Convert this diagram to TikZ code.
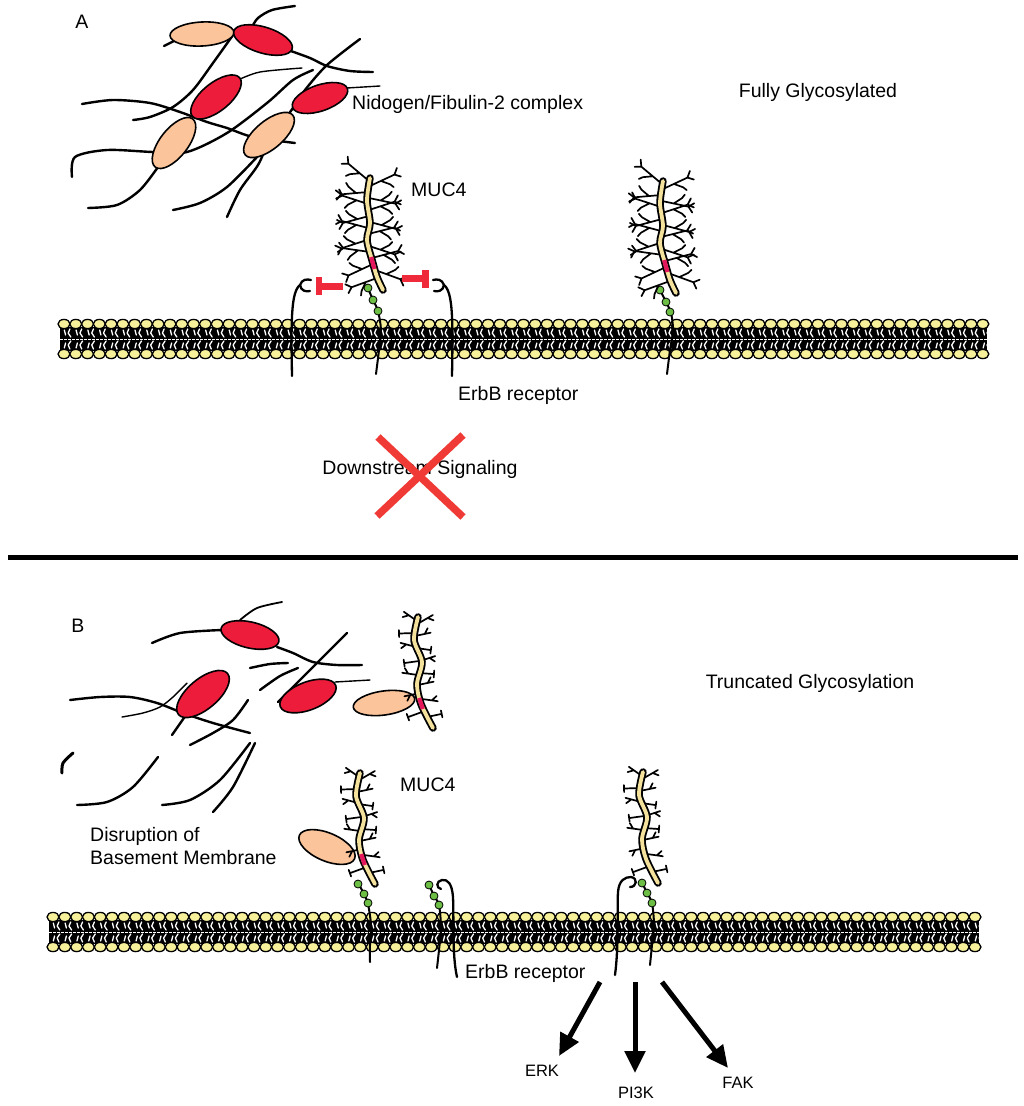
\documentclass[tikz,border=0pt]{standalone}
\usepackage{fontspec}
\setmainfont{Liberation Sans}
\usetikzlibrary{arrows.meta}
\definecolor{ecmred}{HTML}{ED1C3A}
\definecolor{ecmpeach}{HTML}{FBC49A}
\definecolor{pinkblk}{HTML}{E5175C}
\definecolor{bbyellow}{HTML}{F4E19C}
\definecolor{headyel}{HTML}{F7F09A}
\definecolor{beadgreen}{HTML}{6CBE45}
\definecolor{inhred}{HTML}{EE2A3B}
\definecolor{xred}{HTML}{F03A36}
\tikzset{
  fiber/.style={line width=2.4pt, line cap=round},
  thinfiber/.style={line width=1.4pt, line cap=round},
  ecmR/.style={fill=ecmred, draw=black, line width=1.6pt},
  ecmP/.style={fill=ecmpeach, draw=black, line width=1.6pt},
  lbl/.style={font=\fontsize{19.5}{23}\selectfont, inner sep=0pt},
  smalllbl/.style={font=\fontsize{16.5}{19}\selectfont, inner sep=0pt},
  glyline/.style={line width=1.7pt, line cap=round, line join=round},
  bbout/.style={line width=7.5pt, line cap=round, black},
  bbin/.style={line width=3.8pt, line cap=round, bbyellow},
  blkseg/.style={line width=4.2pt, pinkblk},
  chainline/.style={line width=2pt, line cap=round},
  beadst/.style={fill=beadgreen, draw=black, line width=0.8pt},
  receptor/.style={line width=2.3pt, line cap=round},
  inhib/.style={line width=6.5pt, inhred},
  xline/.style={line width=7.5pt, xred},
  lipidgap/.style={line width=1.3pt, white, line join=round, line cap=round},
  lipidhead/.style={fill=headyel, draw=black, line width=1.3pt},
  sigarrow/.style={line width=5pt, -{Triangle[width=20pt,length=22pt]}},
  glyA/.pic={\draw[glyline] (0,0)--(27,0) (12,0)--(19,-7) (19,-7)--(21,-11) (27,0)--(32,-4.5) (27,0)--(32,5);},
  glyT/.pic={\draw[glyline] (0,0)--(16,0) (10,0)--(14,-5);},
  glyU/.pic={\draw[glyline] (0,0)--(15,0) (15,-3.5)--(15,3.5);}
}
\newcommand\bilayer[4]{%
  \fill[black] (#1-4,#4+3) rectangle (#1+#2*#3+4,#4+27);
  \foreach \i in {0,...,#2}{%
    \pgfmathsetmacro\xx{#1+\i*#3}%
    \draw[lipidgap] (\xx+5.9,#4+5) -- (\xx+4.2,#4+9) -- (\xx+6.8,#4+13)
      (\xx+5.9,#4+25) -- (\xx+4.2,#4+21) -- (\xx+6.8,#4+17)
      (\xx+0.3,#4+6) -- (\xx+1.6,#4+11)
      (\xx+0.3,#4+24) -- (\xx+1.6,#4+19);
  }
  \draw[white, line width=0.9pt, dash pattern=on 2.5pt off 1.5pt] (#1-4,#4+15) -- (#1+#2*#3+4,#4+15);
  \foreach \i in {0,...,#2}{%
    \pgfmathsetmacro\xx{#1+\i*#3}%
    \draw[lipidhead] (\xx,#4) ellipse [x radius=6pt, y radius=4.6pt];
    \draw[lipidhead] (\xx,#4+30) ellipse [x radius=6pt, y radius=4.6pt];
  }
}
\newcommand\mucfull[2]{%
  \begin{scope}[shift={(#1,#2)}]
    \foreach \p/\a/\s in {{-1,3}/140/1, {-2,14}/185/-1, {-2,26}/162/1, {-1,38}/195/-1, {-2,50}/165/1, {-3,62}/198/-1, {0,74}/172/1, {3,86}/205/-1, {7,100}/200/1,
      {0,8}/25/-1, {-1,20}/-12/1, {-1,32}/18/-1, {0,44}/-15/1, {-2,56}/14/-1, {-1,68}/-18/1, {2,80}/15/-1, {5,92}/-20/1}
      {\pic[rotate=\a, yscale=\s] at (\p) {glyA};}
    \draw[bbout] plot[smooth] coordinates {(0,0) (-3,22) (0,45) (-3,62) (2,82) (7,99) (13,112)};
    \draw[bbin] plot[smooth] coordinates {(0,0) (-3,22) (0,45) (-3,62) (2,82) (7,99) (13,112)};
    \draw[blkseg] (1.2,79) -- (4.4,91);
  \end{scope}}
\newcommand\muctrunc[3]{%
  \begin{scope}[shift={(#1,#2)}]
    \foreach \p/\a/\s in {{-1,4}/145/1, {-2,30}/165/1, {0,58}/172/-1, {2,76}/192/1, {1,6}/30/-1, {-3,19}/12/1, {2,44}/18/-1, {0,68}/12/1, {4,82}/-8/1}
      {\pic[rotate=\a, yscale=\s] at (\p) {glyT};}
    \foreach \p/\a/\s in {{-4,16}/182/1, {1,44}/188/1, {4,95}/200/1, {-2,31}/-8/1, {1,56}/-4/1, {9,100}/12/1}
      {\pic[rotate=\a, yscale=\s] at (\p) {glyU};}
    \draw[bbout] plot[smooth] coordinates {(0,0) (-4,23) (4,45) (-1,67) (3,87) (15,111)};
    \draw[bbin] plot[smooth] coordinates {(0,0) (-4,23) (4,45) (-1,67) (3,87) (15,111)};
    \ifnum#3=1 \draw[blkseg] (1.2,81) -- (4.8,92);\fi
  \end{scope}}
\newcommand\beads[3]{%
  \filldraw[beadst] (#1) circle[radius=4pt];
  \filldraw[beadst] (#2) circle[radius=4pt];
  \filldraw[beadst] (#3) circle[radius=4pt];}
\begin{document}
\begin{tikzpicture}[x=1pt,y=-1pt]
\useasboundingbox[fill=white] (0,0) rectangle (1024,1106);

% ================= PANEL A =================
\draw[fiber] (164,46) -- (176,40);
\draw[fiber] plot[smooth] coordinates {(295,6) (272,10) (258,18) (252,27)};
\draw[fiber] plot[smooth] coordinates {(288,50) (310,58) (327,66) (350,71) (373,72)};
\draw[fiber] plot[smooth] coordinates {(233,35) (213,63) (193,90) (173,107) (150,117) (133,120)};
\draw[fiber] plot[smooth] coordinates {(82,104) (113,100) (150,103) (180,112) (207,122) (227,128) (253,137) (295,143)};
\draw[thinfiber] plot[smooth] coordinates {(238,80) (260,72) (302,68)};
\draw[fiber] plot[smooth] coordinates {(72,177) (75,157) (107,150) (153,152) (187,152) (227,133) (267,103) (293,80) (313,70)};
\draw[fiber] plot[smooth] coordinates {(360,39) (327,65) (305,90) (293,108) (270,140) (258,165) (240,190) (227,217)};
\draw[fiber] plot[smooth] coordinates {(257,157) (227,187) (200,203) (173,210)};
\draw[fiber] plot[smooth] coordinates {(158,167) (140,190) (117,205) (88,208)};
\draw[thinfiber] (347,88) -- (380,86);
\draw[ecmP, rotate around={3:(202,34)}] (202,34) ellipse [x radius=32pt, y radius=12pt];
\draw[ecmR, rotate around={-17:(263,40)}] (263,40) ellipse [x radius=30.5pt, y radius=13pt];
\draw[ecmR, rotate around={39:(216,97)}] (216,97) ellipse [x radius=30.5pt, y radius=14pt];
\draw[ecmP, rotate around={52:(174,143)}] (174,143) ellipse [x radius=30.5pt, y radius=14pt];
\draw[ecmP, rotate around={40:(269,135)}] (269,135) ellipse [x radius=31pt, y radius=14pt];
\draw[ecmR, rotate around={19:(320,98)}] (320,98) ellipse [x radius=29pt, y radius=13pt];

\bilayer{64}{78}{11.78}{324}

\draw[receptor] (292,376) .. controls (291,320) and (291,292) .. (300,285) .. controls (302,279) and (307,279) .. (311,280);
\draw[receptor] (300,285) .. controls (301,291) and (306,292) .. (310,291);
\draw[receptor] (452,376) .. controls (453,320) and (453,292) .. (444,285) .. controls (442,279) and (437,279) .. (433,280);
\draw[receptor] (444,285) .. controls (443,291) and (438,292) .. (434,291);
\draw[chainline] plot[smooth] coordinates {(367,286) (373,300) (378,311) (381,330) (379,350) (376,374)};
\beads{368,288}{373,300}{378,311}
\draw[chainline] plot[smooth] coordinates {(659,288) (666,302) (671,313) (673,330) (670,350) (667,374)};
\beads{660,290}{666,302}{670,312}
\mucfull{370}{178}
\mucfull{663}{181}
\draw[inhib] (343,286.5) -- (318,286.5);
\draw[inhib] (319,277) -- (319,295);
\draw[inhib] (402,278.5) -- (425,278.5);
\draw[inhib] (425.5,270) -- (425.5,288);

\node[lbl] (labA) at (82,22) {A};
\node[lbl] (fullgly) at (818,92) {Fully Glycosylated};
\node[lbl, anchor=west] (nido) at (352,104) {Nidogen/Fibulin-2 complex};
\node[lbl, anchor=west] (mucA) at (411,190) {MUC4};
\node[lbl, anchor=west] (erbA) at (458,395) {ErbB receptor};
\node[lbl] (downA) at (420,469) {Downstream Signaling};
\draw[xline] (378,437) -- (463,517);
\draw[xline] (463,435) -- (377,516);

\draw[line width=5pt] (8,557) -- (1018,557);

% ================= PANEL B =================
\draw[thinfiber, line width=1.8pt] plot[smooth] coordinates {(240,620) (257,608) (282,602)};
\draw[fiber] plot[smooth] coordinates {(152,643) (180,633) (222,630)};
\draw[fiber] plot[smooth] coordinates {(277,647) (293,653) (313,662) (337,665) (362,665)};
\draw[fiber] (347,633) -- (278,702);
\draw[fiber] plot[smooth] coordinates {(250,668) (270,664) (288,663)};
\draw[fiber] plot[smooth] coordinates {(260,690) (280,676) (298,668)};
\draw[fiber] plot[smooth] coordinates {(70,700) (100,697) (130,697) (157,703) (183,713) (213,723) (250,733)};
\draw[thinfiber] plot[smooth] coordinates {(122,717) (143,713) (160,707) (173,697) (187,683)};
\draw[fiber] (172,735) -- (186,715);
\draw[fiber] plot[smooth] coordinates {(190,745) (213,733) (233,720) (248,700)};
\draw[fiber, line width=3pt] plot[smooth] coordinates {(62,773) (63,763) (73,753)};
\draw[fiber] plot[smooth] coordinates {(77,805) (107,802) (133,787) (158,757)};
\draw[fiber] plot[smooth] coordinates {(162,805) (190,800) (220,780) (250,743)};
\draw[fiber] plot[smooth] coordinates {(213,812) (233,787) (255,743)};
\draw[thinfiber] (335,682) -- (370,680);
\draw[ecmR, rotate around={-13:(250,635)}] (250,635) ellipse [x radius=29.6pt, y radius=13pt];
\draw[ecmR, rotate around={21:(308,696)}] (308,696) ellipse [x radius=29.7pt, y radius=14pt];
\draw[ecmR, rotate around={40:(203,694)}] (203,694) ellipse [x radius=32pt, y radius=15pt];
\draw[ecmP, rotate around={8:(384,703)}] (384,703) ellipse [x radius=31pt, y radius=12pt];
\draw[ecmP, rotate around={-23:(327,847)}] (327,847) ellipse [x radius=30pt, y radius=14pt];

\muctrunc{418}{617}{1}

\bilayer{53}{78}{11.82}{917}

\draw[receptor] (457,977) .. controls (452,955) and (454,920) .. (453,897) .. controls (452,884) and (448,879) .. (442,880) .. controls (436,881) and (436,888) .. (441,889);
\draw[receptor] (615,975) .. controls (619,945) and (617,910) .. (618,892) .. controls (619,880) and (625,877) .. (631,877) .. controls (638,878) and (637,887) .. (630,887);
\draw[chainline] plot[smooth] coordinates {(357,881) (364,894) (368,904) (371,925) (370,945) (370,962)};
\beads{358,884}{364,894}{368,903}
\draw[chainline] plot[smooth] coordinates {(428,882) (434,896) (439,905) (441,928) (439,950) (437,968)};
\beads{429,885}{434,896}{439,905}
\draw[chainline] plot[smooth] coordinates {(641,880) (647,893) (652,903) (654,925) (652,945) (650,965)};
\beads{642,883}{647,893}{652,903}
\muctrunc{360}{773}{1}
\muctrunc{643}{772}{0}

\node[lbl] (labB) at (78,626) {B};
\node[lbl] (truncgly) at (810,683) {Truncated Glycosylation};
\node[lbl, anchor=west] (mucB) at (400,785) {MUC4};
\node[lbl, anchor=west, align=left] (disrupt) at (90,846) {Disruption of\\Basement Membrane};
\node[lbl, anchor=west] (erbB) at (465,973) {ErbB receptor};
\node[smalllbl] (erk) at (542,1071) {ERK};
\node[smalllbl] (pi3k) at (636,1093) {PI3K};
\node[smalllbl] (fak) at (738,1083) {FAK};

\coordinate (erkstart) at (600,982);
\coordinate (erktip) at (559,1056);
\coordinate (pistart) at (635,982);
\coordinate (pitip) at (635,1073);
\coordinate (fakstart) at (662,982);
\coordinate (faktip) at (728,1068);
\draw[sigarrow] (erkstart) -- (erktip);
\draw[sigarrow] (pistart) -- (pitip);
\draw[sigarrow] (fakstart) -- (faktip);
\end{tikzpicture}
\end{document}
